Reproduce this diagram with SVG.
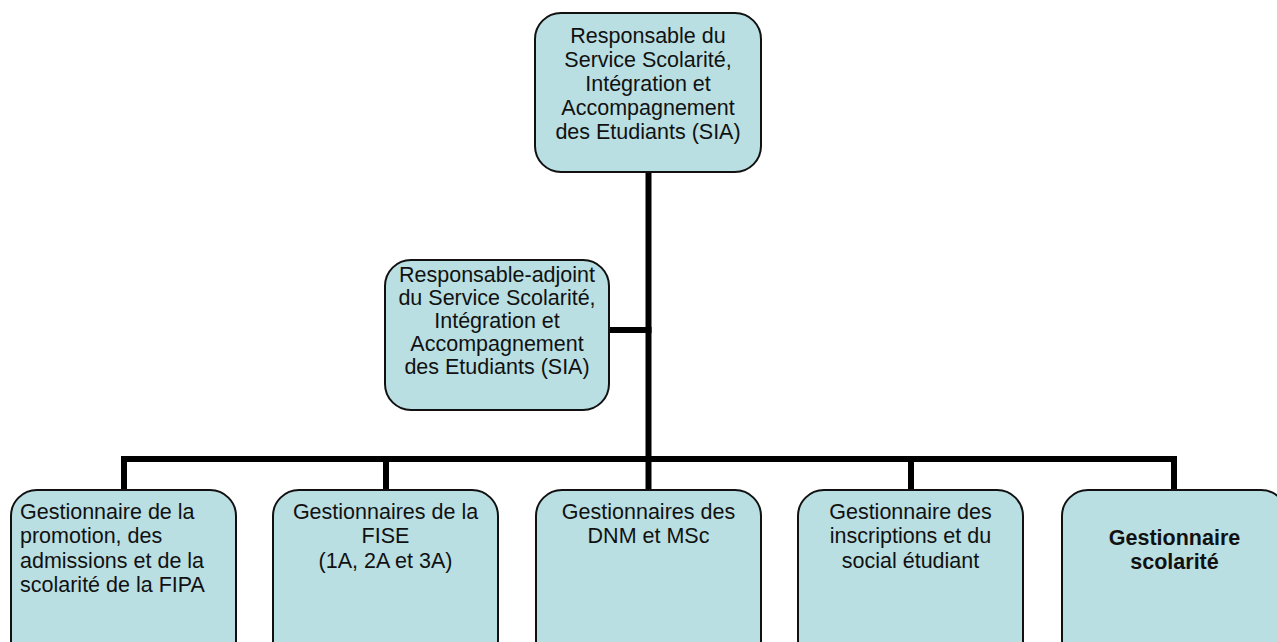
<svg xmlns="http://www.w3.org/2000/svg" width="1277" height="642" viewBox="0 0 1277 642">
<style>
.box{fill:#b9dfe2;stroke:#111;stroke-width:2}
.t{font-family:"Liberation Sans",Arial,sans-serif;font-size:21.5px;fill:#111}
.c{text-anchor:middle}
.b{font-weight:bold}
.ln{stroke:#000;stroke-width:6;fill:none;stroke-linecap:square}
</style>
<rect width="1277" height="642" fill="#fff"/>
<g id="connectors">
<line class="ln" x1="648.5" y1="173" x2="648.5" y2="459"/>
<line class="ln" x1="610" y1="330" x2="648.5" y2="330"/>
<polyline class="ln" points="124,489 124,459 1174,459 1174,489"/>
<line class="ln" x1="386" y1="459" x2="386" y2="489"/>
<line class="ln" x1="648.5" y1="459" x2="648.5" y2="489"/>
<line class="ln" x1="911" y1="459" x2="911" y2="489"/>
</g>
<g id="n-top">
<rect class="box" x="535" y="13" width="226" height="159" rx="26"/>
<text class="t c" x="648" y="43">Responsable du</text>
<text class="t c" x="648" y="67">Service Scolarité,</text>
<text class="t c" x="648" y="91">Intégration et</text>
<text class="t c" x="648" y="115">Accompagnement</text>
<text class="t c" x="648" y="139">des Etudiants (SIA)</text>
</g>
<g id="n-adjoint">
<rect class="box" x="385" y="260" width="224" height="150" rx="26"/>
<text class="t c" x="497" y="282">Responsable-adjoint</text>
<text class="t c" x="497" y="305">du Service Scolarité,</text>
<text class="t c" x="497" y="328">Intégration et</text>
<text class="t c" x="497" y="351">Accompagnement</text>
<text class="t c" x="497" y="374">des Etudiants (SIA)</text>
</g>
<g id="n-fipa">
<rect class="box" x="11" y="490" width="225" height="190" rx="26"/>
<text class="t" x="20" y="519">Gestionnaire de la</text>
<text class="t" x="20" y="543.3">promotion, des</text>
<text class="t" x="20" y="567.6">admissions et de la</text>
<text class="t" x="20" y="592">scolarité de la FIPA</text>
</g>
<g id="n-fise">
<rect class="box" x="273" y="490" width="225" height="190" rx="26"/>
<text class="t c" x="385.5" y="519">Gestionnaires de la</text>
<text class="t c" x="385.5" y="543.3">FISE</text>
<text class="t c" x="385.5" y="567.6">(1A, 2A et 3A)</text>
</g>
<g id="n-dnm">
<rect class="box" x="536" y="490" width="225" height="190" rx="26"/>
<text class="t c" x="648.5" y="519">Gestionnaires des</text>
<text class="t c" x="648.5" y="543.3">DNM et MSc</text>
</g>
<g id="n-inscriptions">
<rect class="box" x="798" y="490" width="225" height="190" rx="26"/>
<text class="t c" x="910.5" y="519">Gestionnaire des</text>
<text class="t c" x="910.5" y="543.3">inscriptions et du</text>
<text class="t c" x="910.5" y="567.6">social étudiant</text>
</g>
<g id="n-scolarite">
<rect class="box" x="1062" y="490" width="225" height="190" rx="26"/>
<text class="t c b" x="1174.5" y="545">Gestionnaire</text>
<text class="t c b" x="1174.5" y="569">scolarité</text>
</g>
</svg>
